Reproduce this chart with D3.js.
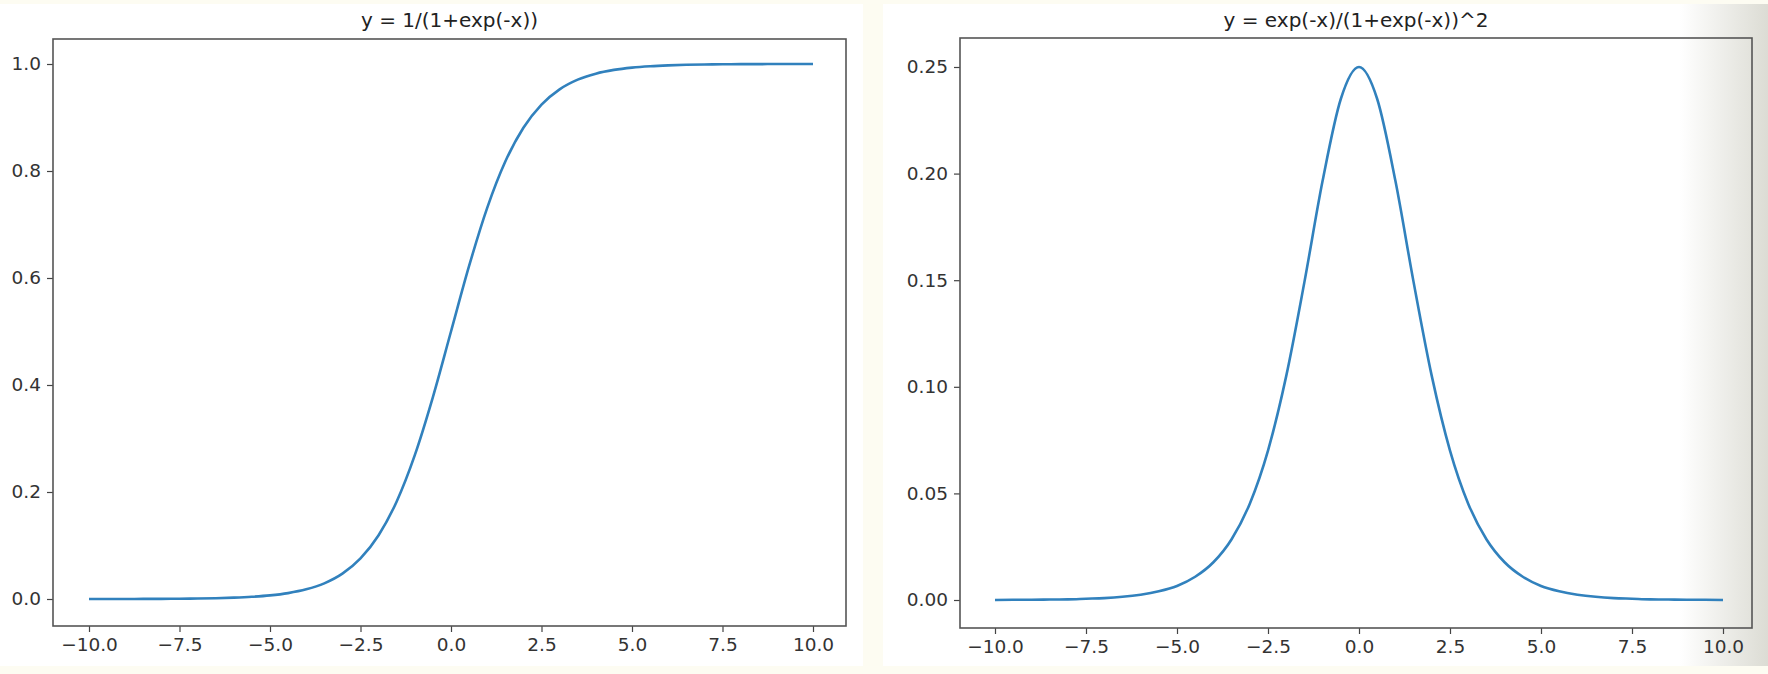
<!DOCTYPE html>
<html lang="en">
<head>
  <meta charset="UTF-8">
  <title>Sigmoid and derivative</title>
  <script src="https://cdn.jsdelivr.net/npm/d3@7"></script>
  <style>
    body { margin: 0; background: #fdfcf2; font-family: "DejaVu Sans", sans-serif; }
    .axis text { font-size: 18.5px; fill: #333; font-family: "DejaVu Sans", sans-serif; }
    .axis path, .axis line { stroke: #444; stroke-width: 1.2; }
  </style>
</head>
<body>
  <svg id="chart" width="1768" height="674"></svg>
  <script>
    // x samples and values
    const xs = [-10, -9.5, -9, -8.5, -8, -7.5, -7, -6.5, -6, -5.5, -5, -4.5, -4, -3.5, -3, -2.5, -2, -1.5, -1, -0.5,
                0, 0.5, 1, 1.5, 2, 2.5, 3, 3.5, 4, 4.5, 5, 5.5, 6, 6.5, 7, 7.5, 8, 8.5, 9, 9.5, 10];
    const sigmoid = [0.0000, 0.0001, 0.0001, 0.0002, 0.0003, 0.0006, 0.0009, 0.0015, 0.0025, 0.0041, 0.0067, 0.0110,
                     0.0180, 0.0293, 0.0474, 0.0759, 0.1192, 0.1824, 0.2689, 0.3775, 0.5000, 0.6225, 0.7311, 0.8176,
                     0.8808, 0.9241, 0.9526, 0.9707, 0.9820, 0.9890, 0.9933, 0.9959, 0.9975, 0.9985, 0.9991, 0.9994,
                     0.9997, 0.9998, 0.9999, 0.9999, 1.0000];
    const deriv = [0.0000, 0.0001, 0.0001, 0.0002, 0.0003, 0.0006, 0.0009, 0.0015, 0.0025, 0.0041, 0.0066, 0.0109,
                   0.0177, 0.0285, 0.0452, 0.0701, 0.1050, 0.1491, 0.1966, 0.2350, 0.2500, 0.2350, 0.1966, 0.1491,
                   0.1050, 0.0701, 0.0452, 0.0285, 0.0177, 0.0109, 0.0066, 0.0041, 0.0025, 0.0015, 0.0009, 0.0006,
                   0.0003, 0.0002, 0.0001, 0.0001, 0.0000];
    const xTicks = [-10, -7.5, -5, -2.5, 0, 2.5, 5, 7.5, 10];
    const leftYTicks = [0, 0.2, 0.4, 0.6, 0.8, 1.0];
    const rightYTicks = [0, 0.05, 0.10, 0.15, 0.20, 0.25];

    const svg = d3.select("#chart");
    const defs = svg.append("defs");
    const grad = defs.append("linearGradient").attr("id", "shade");
    grad.append("stop").attr("offset", "0").attr("stop-color", "#ffffff");
    grad.append("stop").attr("offset", "1").attr("stop-color", "#dcdcd4");

    // background panels (two screenshots side by side)
    svg.append("rect").attr("x", 0).attr("y", 4).attr("width", 863).attr("height", 662).attr("fill", "#fff");
    svg.append("rect").attr("x", 883).attr("y", 4).attr("width", 885).attr("height", 662).attr("fill", "#fff");
    svg.append("rect").attr("x", 1680).attr("y", 4).attr("width", 88).attr("height", 662).attr("fill", "url(#shade)");

    function panel(o) {
      const g = svg.append("g");
      const x = d3.scaleLinear().domain([-10, 10]).range([o.x0, o.x1]);
      const y = d3.scaleLinear().domain(o.yDom).range([o.y0, o.y1]);
      g.append("g").attr("class", "axis").attr("transform", `translate(0,${o.bottom})`)
        .call(d3.axisBottom(x).tickValues(xTicks).tickFormat(d3.format(".1f")).tickSizeOuter(0).tickSize(6).tickPadding(6))
        .call(s => s.select(".domain").remove());
      g.append("g").attr("class", "axis").attr("transform", `translate(${o.left},0)`)
        .call(d3.axisLeft(y).tickValues(o.yTicks).tickFormat(d3.format(o.fmt)).tickSizeOuter(0).tickSize(6).tickPadding(6))
        .call(s => s.select(".domain").remove());
      g.append("rect").attr("x", o.left).attr("y", o.top).attr("width", o.right - o.left).attr("height", o.bottom - o.top)
        .attr("fill", "none").attr("stroke", "#555").attr("stroke-width", 1.6);
      g.append("path").datum(xs.map((v, i) => [v, o.vals[i]]))
        .attr("fill", "none").attr("stroke", "#3181bd").attr("stroke-width", 2.6)
        .attr("d", d3.line().x(d => x(d[0])).y(d => y(d[1])).curve(d3.curveMonotoneX));
      g.append("text").attr("x", (o.left + o.right) / 2).attr("y", 27).attr("text-anchor", "middle")
        .attr("font-size", 20).attr("fill", "#222").text(o.title);
    }

    panel({ left: 53, right: 846, top: 39, bottom: 626, x0: 89, x1: 813, y0: 599, y1: 64,
            yDom: [0, 1], yTicks: leftYTicks, fmt: ".1f", vals: sigmoid, title: "y = 1/(1+exp(-x))" });
    panel({ left: 960, right: 1752, top: 38, bottom: 628, x0: 995, x1: 1723, y0: 600, y1: 67,
            yDom: [0, 0.25], yTicks: rightYTicks, fmt: ".2f", vals: deriv, title: "y = exp(-x)/(1+exp(-x))^2" });
  </script>
</body>
</html>
